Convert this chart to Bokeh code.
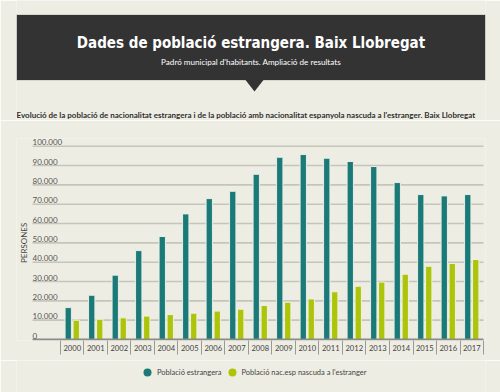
import math
from bokeh.plotting import figure
from bokeh.models import (Range1d, FixedTicker, Label, Legend, LegendItem,
                          ColumnDataSource, LinearAxis)
from bokeh.layouts import column
from bokeh.embed import file_html
from bokeh.resources import INLINE
from bokeh.core.properties import value

# ---------------- data ----------------
years = ["2000", "2001", "2002", "2003", "2004", "2005", "2006", "2007", "2008",
         "2009", "2010", "2011", "2012", "2013", "2014", "2015", "2016", "2017"]
estrangera = [16500, 22900, 33300, 46000, 53300, 65000, 72900, 76700, 85500,
              94300, 95700, 93800, 92100, 89500, 81200, 75000, 74300, 75000]
nac_esp = [10000, 10500, 11200, 12100, 12900, 13600, 14700, 15700, 17600,
           19300, 21000, 24700, 27600, 29700, 33800, 37900, 39300, 41400]
y_ticks = [0, 10000, 20000, 30000, 40000, 50000, 60000, 70000, 80000, 90000, 100000]
y_labels = ["0", "10.000", "20.000", "30.000", "40.000", "50.000", "60.000",
            "70.000", "80.000", "90.000", "100.000"]
series_names = ["Població estrangera", "Població nac.esp nascuda a l'estranger"]
y_title = "PERSONES"

title = "Dades de població estrangera. Baix Llobregat"
subtitle = "Padró municipal d'habitants. Ampliació de resultats"
chart_title = ("Evolució de la població de nacionalitat estrangera i de la població amb "
               "nacionalitat espanyola nascuda a l'estranger. Baix Llobregat")

BG = "#eeede3"
TEAL = "#1b7a78"
GREEN = "#adc40b"
FONT = "Lato"
W = 500
BL, BR = 16, 15        # identical left/right borders for every figure in the column


def blank(fig):
    fig.grid.visible = False
    fig.outline_line_color = None
    fig.background_fill_color = BG
    fig.border_fill_color = BG


# ---------------- header (data units = page pixels) ----------------
HH = 120
h = figure(width=W, height=HH, x_range=Range1d(16, 485), y_range=Range1d(HH, 0),
           output_backend="svg", toolbar_location=None, title=None,
           x_axis_location=None, y_axis_location=None, min_border=0,
           min_border_left=BL, min_border_right=BR, min_border_top=0, min_border_bottom=0)
blank(h)
h.quad(left=[16], right=[485], top=[14], bottom=[80], fill_color="#333333",
       line_color="#d6d6cc", line_width=1)
h.patch(x=[245, 263, 254], y=[79.5, 79.5, 91], fill_color="#333333", line_color=None)
h.add_layout(Label(x=250.5, y=42, text=title, text_align="center",
                   text_baseline="middle", text_color="white",
                   text_font="DejaVu Sans Condensed", text_font_style="bold",
                   text_font_size="15px"))
h.add_layout(Label(x=250.5, y=61, text=subtitle, text_align="center",
                   text_baseline="middle", text_color="white",
                   text_font=FONT, text_font_size="8.1px"))
h.add_layout(Label(x=16, y=114, text=chart_title, text_align="left",
                   text_baseline="middle", text_color="#2e2e2e",
                   text_font=FONT, text_font_style="bold",
                   text_font_size="8px"))

# ---------------- chart ----------------
n = len(years)
idx = list(range(n))
src = ColumnDataSource(dict(x1=[i - 0.17 for i in idx], x2=[i + 0.17 for i in idx],
                            a=estrangera, b=nac_esp, yr=years))
X0, X1 = -1.69, n - 0.5          # extent of gridlines / axis line (category units)

p = figure(width=W, height=240, x_range=Range1d(-2.372, 17.585),
           y_range=Range1d(-517, 104000), output_backend="svg", title=None,
           toolbar_location=None, min_border=0, min_border_left=BL, min_border_right=BR,
           min_border_top=18, min_border_bottom=20, x_axis_location=None,
           y_axis_location=None)
blank(p)

# gridlines
gy = y_ticks[1:]
p.segment(x0=[X0] * len(gy), x1=[X1] * len(gy), y0=gy, y1=gy,
          line_color="#c6c5ba", line_width=1.6)

p.vbar(x="x1", top="a", width=0.27, source=src, fill_color=TEAL,
       line_color="#e6eee6", line_width=1)
p.vbar(x="x2", top="b", width=0.27, source=src, fill_color=GREEN,
       line_color="#eef2e0", line_width=1)

# baseline
p.segment(x0=[X0], x1=[X1], y0=[0], y1=[0], line_color="#8c8c86", line_width=2)

# y labels inside the plot, above gridlines
p.text(x=[X0] * len(y_ticks), y=y_ticks, text=y_labels, text_align="left",
       text_baseline="bottom", y_offset=-1, text_font=value(FONT),
       text_font_size="8px", text_color="#555555")
# y title
p.text(x=[-2.074], y=[50000], text=[y_title], angle=math.pi / 2, text_align="center",
       text_baseline="middle", text_font=value(FONT), text_font_size="8px",
       text_color="#444444")

xa = LinearAxis(ticker=FixedTicker(ticks=idx, minor_ticks=[i - 0.5 for i in range(n + 1)]))
xa.major_label_overrides = {i: y for i, y in enumerate(years)}
xa.major_tick_out = 0
xa.major_tick_in = 0
xa.minor_tick_out = 14
xa.minor_tick_in = 0
xa.minor_tick_line_color = "#9a9a94"
xa.minor_tick_line_width = 1
xa.axis_line_color = None
xa.major_label_standoff = -10
xa.major_label_text_font = FONT
xa.major_label_text_font_size = "7.6px"
xa.major_label_text_color = "#444444"
p.add_layout(xa, "below")

# ---------------- legend strip ----------------
lg = figure(width=W, height=32, x_range=Range1d(0, 1), y_range=Range1d(0, 1),
            output_backend="svg", toolbar_location=None, title=None,
            x_axis_location=None, y_axis_location=None, min_border=0,
            min_border_left=BL, min_border_right=BR, min_border_top=0, min_border_bottom=0)
blank(lg)
l1 = lg.scatter(x=[-5], y=[-5], marker="circle", size=8, fill_color=TEAL, line_color=None)
l2 = lg.scatter(x=[-5], y=[-5], marker="circle", size=8, fill_color=GREEN, line_color=None)
legend = Legend(items=[LegendItem(label=series_names[0], renderers=[l1]),
                       LegendItem(label=series_names[1], renderers=[l2])],
                orientation="horizontal", location=(121, 10),
                background_fill_alpha=0, border_line_color=None,
                label_text_font=FONT, label_text_font_size="7.5px",
                label_text_color="#444444", glyph_width=20, glyph_height=20,
                label_height=20, padding=0, margin=0, spacing=0, label_standoff=0)
lg.add_layout(legend, "center")

layout = column(h, p, lg, spacing=0)
html = file_html(layout, INLINE)
html = html.replace("<body>", '<body style="background:%s; overflow:hidden">' % BG, 1)
open("out.html", "w").write(html)
